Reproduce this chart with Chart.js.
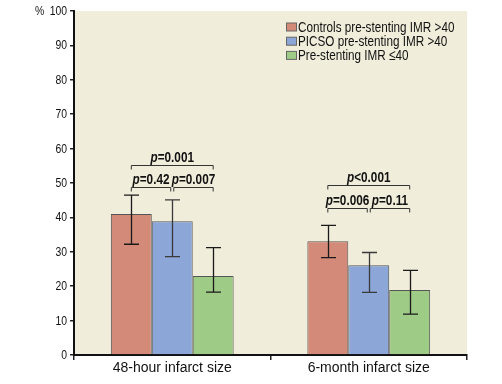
<!DOCTYPE html>
<html lang="en">
<head>
<meta charset="UTF-8">
<title>Infarct size</title>
<script src="https://cdn.jsdelivr.net/npm/chart.js"></script>
<style>
  html,body{margin:0;padding:0;background:#fff}
  #wrap{width:502px;height:384px}
</style>
</head>
<body>
<div id="wrap"><canvas id="c" width="502" height="384"></canvas></div>
<script>
// ---- data ----
const categories = ['48-hour infarct size', '6-month infarct size'];
const seriesNames = ['Controls pre-stenting IMR >40', 'PICSO pre-stenting IMR >40', 'Pre-stenting IMR \u226440'];
const controls     = [41.0, 33.1];
const controlsLow  = [32.2, 28.3];
const controlsHigh = [46.5, 37.7];
const picso        = [38.9, 26.1];
const picsoLow     = [28.6, 18.2];
const picsoHigh    = [45.1, 29.8];
const lowImr       = [23.0, 18.9];
const lowImrLow    = [18.3, 11.9];
const lowImrHigh   = [31.2, 24.6];
const yTicks = [0,10,20,30,40,50,60,70,80,90,100];

// p-value brackets: [category, fromSeries, toSeries, level (%), label]
const brackets = [
  [0, 0, 2, 55.2, 'p=0.001'],
  [0, 0, 1, 48.8, 'p=0.42'],
  [0, 1, 2, 48.8, 'p=0.007'],
  [1, 0, 2, 49.4, 'p<0.001'],
  [1, 0, 1, 42.8, 'p=0.006'],
  [1, 1, 2, 42.8, 'p=0.11']
];

const colors = ['#d38a78', '#8ba6d7', '#9ecb86'];
const errLow = [controlsLow, picsoLow, lowImrLow];
const errHigh = [controlsHigh, picsoHigh, lowImrHigh];
const FONT = '"Liberation Sans", Arial, sans-serif';
// no condensed face installed, so narrow text gets squeezed horizontally

function narrowText(ctx, txt, x, y, align, sq){
  const w = ctx.measureText(txt).width * sq;
  let sx = x;
  if(align==='right') sx = x - w;
  else if(align==='center') sx = x - w/2;
  ctx.save();
  ctx.textAlign = 'left';
  ctx.translate(sx, y);
  ctx.scale(sq, 1);
  ctx.fillText(txt, 0, 0);
  ctx.restore();
  return w;
}

/* plot background */
const bgPlugin = {
  id:'bg',
  beforeDraw(chart){
    const {ctx, chartArea:a} = chart;
    ctx.save();
    ctx.fillStyle = '#f1eddb';
    ctx.fillRect(a.left, a.top, a.right-a.left, a.bottom-a.top);
    ctx.restore();
  }
};

/* error bars, brackets, legend, y labels */
const extrasPlugin = {
  id:'extras',
  afterDatasetsDraw(chart){
    const {ctx, scales:{y}} = chart;
    ctx.save();
    // error bars
    for(let d=0; d<3; d++){
      const meta = chart.getDatasetMeta(d);
      meta.data.forEach((bar,i)=>{
        const x = Math.round(bar.x)+0.5;
        const yl = y.getPixelForValue(errLow[d][i]);
        const yh = y.getPixelForValue(errHigh[d][i]);
        ctx.strokeStyle = d===1 ? '#3a3a3a' : '#1a1a1a';
        ctx.lineWidth = 1.3;
        ctx.beginPath();
        ctx.moveTo(x, yl); ctx.lineTo(x, yh);
        ctx.moveTo(x-7.5, yl); ctx.lineTo(x+7.5, yl);
        ctx.moveTo(x-7.5, yh); ctx.lineTo(x+7.5, yh);
        ctx.stroke();
      });
    }
    // brackets
    ctx.strokeStyle = '#333';
    ctx.lineWidth = 1;
    ctx.fillStyle = '#111';
    ctx.textBaseline = 'alphabetic';
    const PSQ = 0.84;
    brackets.forEach(([c, a, b, lvl, txt])=>{
      let x1 = chart.getDatasetMeta(a).data[c].x;
      let x2 = chart.getDatasetMeta(b).data[c].x;
      if(b-a===1){ if(a===1) x1 += 1.5; else x2 -= 1.5; }
      const yy = Math.round(y.getPixelForValue(lvl))+0.5;
      ctx.beginPath();
      ctx.moveTo(x1, yy+4); ctx.lineTo(x1, yy); ctx.lineTo(x2, yy); ctx.lineTo(x2, yy+4);
      ctx.stroke();
      // label: italic p + bold rest
      const rest = txt.slice(1);
      ctx.font = 'italic bold 14px ' + FONT;
      const wp = ctx.measureText('p').width * PSQ;
      ctx.font = 'bold 14px ' + FONT;
      const wr = ctx.measureText(rest).width * PSQ;
      const sx = (x1+x2)/2 - (wp+wr)/2;
      ctx.font = 'italic bold 14px ' + FONT;
      narrowText(ctx, 'p', sx, yy-4, 'left', PSQ);
      ctx.font = 'bold 14px ' + FONT;
      narrowText(ctx, rest, sx+wp, yy-4, 'left', PSQ);
    });
    // legend
    ctx.font = '15px ' + FONT;
    ctx.textBaseline = 'middle';
    seriesNames.forEach((n,i)=>{
      const ly = 27 + i*14.2;
      ctx.fillStyle = colors[i];
      ctx.fillRect(286.5, ly-4, 10, 8);
      ctx.strokeStyle = '#666';
      ctx.strokeRect(286.5, ly-4, 10, 8);
      ctx.fillStyle = '#111';
      narrowText(ctx, n, 298, ly+0.5, 'left', 0.78);
    });
    // y tick labels and % unit
    ctx.font = '13px ' + FONT;
    ctx.fillStyle = '#111';
    yTicks.forEach(v=>{
      narrowText(ctx, String(v), 67, y.getPixelForValue(v)+0.5, 'right', 0.8);
    });
    narrowText(ctx, '%', 35, y.getPixelForValue(100)+0.5, 'left', 0.8);
    ctx.restore();
  }
};

function ds(label, data, i){
  return {
    label, data,
    backgroundColor: colors[i],
    borderColor: '#555',
    borderWidth: 1,
    borderSkipped: 'bottom',
    categoryPercentage: 0.625,
    barPercentage: 1.0
  };
}

new Chart(document.getElementById('c'), {
  type:'bar',
  data:{
    labels: categories,
    datasets:[
      ds(seriesNames[0], controls, 0),
      ds(seriesNames[1], picso, 1),
      ds(seriesNames[2], lowImr, 2)
    ]
  },
  options:{
    responsive:false,
    animation:false,
    devicePixelRatio:1,
    layout:{padding:{top:11, right:35, left:0, bottom:0}},
    plugins:{legend:{display:false}, tooltip:{enabled:false}},
    scales:{
      x:{
        grid:{display:true, drawOnChartArea:false, offset:true, color:'#222', tickLength:5, lineWidth:1.5},
        border:{display:true, color:'#111', width:2},
        ticks:{color:'#111', font:{family:FONT, size:14}, padding:0},
        afterFit(s){ s.height = 29; }
      },
      y:{
        min:0, max:100,
        afterBuildTicks(s){ s.ticks = yTicks.map(v=>({value:v})); },
        grid:{display:true, drawOnChartArea:false, color:'#222', tickLength:4, lineWidth:1.5},
        border:{display:true, color:'#111', width:2},
        ticks:{display:false},
        afterFit(s){ s.width = 74; }
      }
    }
  },
  plugins:[bgPlugin, extrasPlugin]
});
</script>
</body>
</html>
